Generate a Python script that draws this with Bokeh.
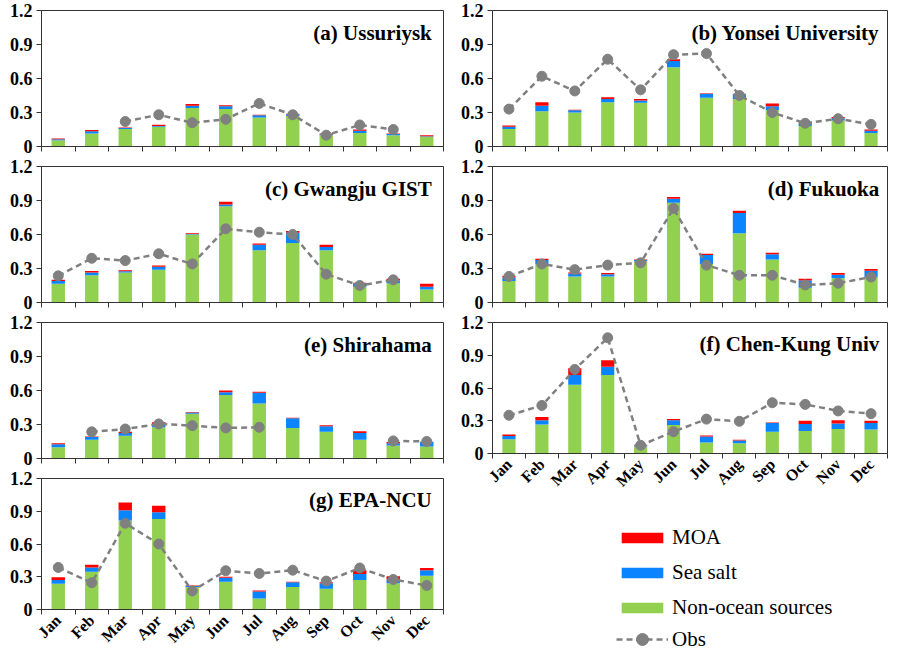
import math
from bokeh.plotting import figure
from bokeh.models import FixedTicker, Range1d, Label, Legend, LegendItem, ColumnDataSource
from bokeh.layouts import row, column
from bokeh.embed import file_html
from bokeh.resources import INLINE

nan = float("nan")

months = ["Jan", "Feb", "Mar", "Apr", "May", "Jun", "Jul", "Aug", "Sep", "Oct", "Nov", "Dec"]
y_ticks = [0, 0.3, 0.6, 0.9, 1.2]
y_tick_labels = ["0", "0.3", "0.6", "0.9", "1.2"]

# (a) Ussuriysk
a_non = [0.055, 0.115, 0.155, 0.175, 0.34, 0.33, 0.255, 0.27, 0.10, 0.12, 0.10, 0.085]
a_sea = [0.010, 0.020, 0.008, 0.005, 0.02, 0.025, 0.02, 0.015, 0.008, 0.02, 0.01, 0.005]
a_moa = [0.005, 0.010, 0.005, 0.012, 0.015, 0.01, 0.005, 0.005, 0.007, 0.01, 0.005, 0.01]
a_obs = [nan, nan, 0.22, 0.28, 0.21, 0.24, 0.38, 0.28, 0.10, 0.19, 0.15, nan]

# (b) Yonsei University
b_non = [0.155, 0.31, 0.30, 0.39, 0.385, 0.70, 0.43, 0.42, 0.32, 0.18, 0.23, 0.12]
b_sea = [0.020, 0.05, 0.02, 0.03, 0.02, 0.055, 0.035, 0.04, 0.035, 0.025, 0.02, 0.02]
b_moa = [0.010, 0.03, 0.005, 0.015, 0.015, 0.015, 0.005, 0.005, 0.025, 0.01, 0.01, 0.01]
b_obs = [0.33, 0.62, 0.49, 0.77, 0.50, 0.81, 0.82, 0.45, 0.30, 0.205, 0.245, 0.195]

# (c) Gwangju GIST
c_non = [0.165, 0.24, 0.265, 0.29, 0.60, 0.85, 0.46, 0.525, 0.46, 0.14, 0.17, 0.115]
c_sea = [0.025, 0.025, 0.01, 0.025, 0.005, 0.015, 0.05, 0.09, 0.03, 0.03, 0.025, 0.025]
c_moa = [0.010, 0.012, 0.01, 0.012, 0.005, 0.025, 0.01, 0.015, 0.02, 0.005, 0.015, 0.025]
c_obs = [0.235, 0.39, 0.37, 0.43, 0.34, 0.65, 0.62, 0.60, 0.25, 0.15, 0.20, nan]

# (d) Fukuoka
d_non = [0.19, 0.34, 0.23, 0.23, 0.365, 0.88, 0.34, 0.61, 0.38, 0.13, 0.215, 0.225]
d_sea = [0.03, 0.035, 0.025, 0.02, 0.01, 0.035, 0.08, 0.18, 0.045, 0.065, 0.03, 0.055]
d_moa = [0.015, 0.01, 0.01, 0.01, 0.005, 0.015, 0.01, 0.02, 0.015, 0.015, 0.015, 0.015]
d_obs = [0.23, 0.34, 0.29, 0.33, 0.35, 0.83, 0.33, 0.24, 0.24, 0.155, 0.17, 0.225]

# (e) Shirahama
e_non = [0.10, 0.165, 0.20, 0.275, 0.395, 0.56, 0.485, 0.27, 0.235, 0.165, 0.115, 0.105]
e_sea = [0.025, 0.025, 0.025, 0.03, 0.01, 0.025, 0.095, 0.085, 0.05, 0.06, 0.02, 0.04]
e_moa = [0.01, 0.005, 0.01, 0.015, 0.005, 0.015, 0.01, 0.005, 0.008, 0.015, 0.01, 0.003]
e_obs = [nan, 0.235, 0.26, 0.305, 0.29, 0.27, 0.275, nan, nan, nan, 0.155, 0.15]

# (f) Chen-Kung Univ
f_non = [0.13, 0.265, 0.63, 0.72, 0.065, 0.26, 0.10, 0.095, 0.20, 0.205, 0.225, 0.22]
f_sea = [0.03, 0.04, 0.09, 0.075, 0.01, 0.045, 0.055, 0.025, 0.08, 0.065, 0.05, 0.06]
f_moa = [0.015, 0.03, 0.06, 0.06, 0.005, 0.01, 0.01, 0.005, 0.005, 0.03, 0.03, 0.02]
f_obs = [0.35, 0.44, 0.77, 1.06, 0.075, 0.20, 0.315, 0.295, 0.465, 0.45, 0.39, 0.365]

# (g) EPA-NCU
g_non = [0.235, 0.345, 0.815, 0.83, 0.205, 0.255, 0.10, 0.205, 0.19, 0.27, 0.24, 0.31]
g_sea = [0.035, 0.04, 0.095, 0.06, 0.01, 0.035, 0.065, 0.045, 0.05, 0.055, 0.035, 0.05]
g_moa = [0.025, 0.025, 0.07, 0.06, 0.005, 0.01, 0.01, 0.005, 0.01, 0.035, 0.03, 0.02]
g_obs = [0.385, 0.245, 0.79, 0.60, 0.17, 0.355, 0.33, 0.36, 0.26, 0.38, 0.275, 0.22]

legend_labels = ["MOA", "Sea salt", "Non-ocean sources", "Obs"]

GREEN = "#92D050"
BLUE = "#0A84FF"
RED = "#FF0000"
GREY = "#808080"
FRAME = "#333333"
SERIF = "Liberation Serif"

FRAME_H = 136
TOP = 10
BOT = 10
BOT_LBL = 40


def make_source(non, sea, moa, obs):
    return ColumnDataSource(dict(x=list(range(1, 13)), non=non, sea=sea, moa=moa, obs=obs))


def draw(p, src, visible=True):
    bars = p.vbar_stack(["non", "sea", "moa"], x="x", width=0.4, source=src,
                        color=[GREEN, BLUE, RED], line_color=None, visible=visible)
    ln = p.line("x", "obs", source=src, line_color=GREY, line_width=2.5, line_dash="6 4",
                visible=visible)
    sc = p.scatter("x", "obs", source=src, size=10, color=GREY, visible=visible)
    return bars, ln, sc


def panel(title, src, left_col, labels):
    bottom = BOT_LBL if labels else BOT
    height = TOP + FRAME_H + bottom
    width = 445 if left_col else 444
    p = figure(width=width, height=height, x_range=Range1d(0.5, 12.5), y_range=Range1d(0, 1.2),
               output_backend="svg", toolbar_location=None,
               min_border_left=41 if left_col else 47, min_border_right=2,
               min_border_top=TOP, min_border_bottom=bottom)
    draw(p, src)

    p.xgrid.visible = False
    p.ygrid.visible = False
    p.outline_line_color = FRAME
    p.outline_line_width = 1

    for ax in p.yaxis:
        ax.ticker = FixedTicker(ticks=y_ticks)
        ax.major_label_overrides = {t: l for t, l in zip(y_ticks, y_tick_labels)}
        ax.minor_tick_line_color = None
        ax.major_tick_out = 5
        ax.major_tick_in = 0
        ax.major_label_text_font = SERIF
        ax.major_label_text_font_style = "bold"
        ax.major_label_text_font_size = "18px"
        ax.major_label_text_color = "black"
        ax.axis_line_color = FRAME
        ax.major_tick_line_color = FRAME
        ax.major_label_standoff = 4

    for ax in p.xaxis:
        ax.major_tick_line_color = None
        ax.minor_tick_out = 5
        ax.minor_tick_in = 0
        ax.minor_tick_line_color = FRAME
        ax.axis_line_color = FRAME
        if labels:
            ax.ticker = FixedTicker(ticks=list(range(1, 13)), minor_ticks=[i + 0.5 for i in range(0, 13)])
            ax.major_label_overrides = {i + 1: m for i, m in enumerate(months)}
            ax.major_label_orientation = math.pi / 4
            ax.major_label_text_font = SERIF
            ax.major_label_text_font_style = "bold"
            ax.major_label_text_font_size = "16px"
            ax.major_label_text_color = "black"
            ax.major_label_standoff = 2
        else:
            ax.ticker = FixedTicker(ticks=[], minor_ticks=[i + 0.5 for i in range(0, 13)])
            ax.major_label_standoff = 0

    p.add_layout(Label(x=12.15 if left_col else 12.25, y=1.0, text=title, text_align="right",
                       text_baseline="middle", text_font=SERIF, text_font_style="bold",
                       text_font_size="21px", text_color="black"))
    return p


src_a = make_source(a_non, a_sea, a_moa, a_obs)
src_b = make_source(b_non, b_sea, b_moa, b_obs)
src_c = make_source(c_non, c_sea, c_moa, c_obs)
src_d = make_source(d_non, d_sea, d_moa, d_obs)
src_e = make_source(e_non, e_sea, e_moa, e_obs)
src_f = make_source(f_non, f_sea, f_moa, f_obs)
src_g = make_source(g_non, g_sea, g_moa, g_obs)

pa = panel("(a) Ussuriysk", src_a, True, False)
pc = panel("(c) Gwangju GIST", src_c, True, False)
pe = panel("(e) Shirahama", src_e, True, False)
pg = panel("(g) EPA-NCU", src_g, True, True)
pb = panel("(b) Yonsei University", src_b, False, False)
pd = panel("(d) Fukuoka", src_d, False, False)
pf = panel("(f) Chen-Kung Univ", src_f, False, True)

# legend panel: hidden copies of the series renderers supply the legend glyphs
used = 2 * (TOP + FRAME_H + BOT) + TOP + FRAME_H + BOT_LBL
pl = figure(width=444, height=654 - used, x_range=Range1d(100, 101), y_range=Range1d(100, 101),
            output_backend="svg", toolbar_location=None, min_border=0)
pl.axis.visible = False
pl.grid.visible = False
pl.outline_line_color = None
lbars, lln, lsc = draw(pl, src_f, visible=False)

common = dict(padding=0, margin=0, border_line_color=None, background_fill_alpha=0,
              glyph_width=52, label_height=20, spacing=10, label_standoff=4,
              label_text_font=SERIF, label_text_font_size="21px", label_text_color="black",
              inactive_fill_alpha=0)
leg_bars = Legend(items=[LegendItem(label=legend_labels[0], renderers=[lbars[2]]),
                         LegendItem(label=legend_labels[1], renderers=[lbars[1]]),
                         LegendItem(label=legend_labels[2], renderers=[lbars[0]])],
                  location=(124, 34), glyph_height=13, **common)
leg_obs = Legend(items=[LegendItem(label=legend_labels[3], renderers=[lln, lsc])],
                 location=(124, 0), glyph_height=30, **common)
pl.add_layout(leg_bars, "center")
pl.add_layout(leg_obs, "center")

layout = row(column(pa, pc, pe, pg), column(pb, pd, pf, pl))

open("out.html", "w").write(file_html(layout, INLINE))
